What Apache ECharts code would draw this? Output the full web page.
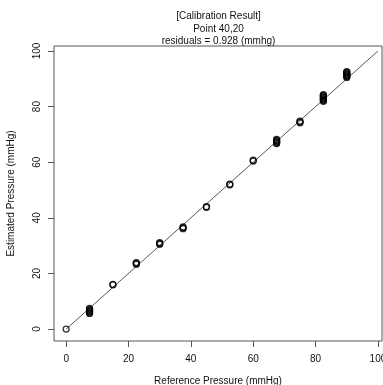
<!DOCTYPE html>
<html>
<head>
<meta charset="utf-8">
<script src="https://cdn.jsdelivr.net/npm/echarts@6/dist/echarts.min.js"></script>
<style>
  html, body { margin: 0; padding: 0; background: #fff; overflow: hidden; }
  #chart { width: 383px; height: 385px; }
</style>
</head>
<body>
<div id="chart"></div>
<script>
// reference pressure steps (mmHg)
const refPressure = [0, 7.5, 15, 22.5, 30, 37.5, 45, 52.5, 60, 67.5, 75, 82.5, 90];
// estimated pressure readings at each step (mmHg)
const estPressure = [
    [0],
    [5.6, 5.9, 6.2, 6.5, 6.8, 7.1, 7.4],
    [15.9, 16.1],
    [23.3, 23.6, 23.9],
    [30.5, 30.8, 31.1],
    [36.1, 36.4, 36.7],
    [43.8, 44.0],
    [51.9, 52.1],
    [60.4, 60.7],
    [66.7, 67.0, 67.3, 67.6, 67.9, 68.2],
    [74.2, 74.5, 74.8],
    [81.9, 82.2, 82.5, 82.8, 83.1, 83.4, 83.7, 84.0, 84.3],
    [90.5, 90.8, 91.1, 91.4, 91.7, 92.0, 92.3, 92.6]
];
// identity reference line
const lineX = [0, 100];
const lineY = [0, 100];
const xTicks = [0, 20, 40, 60, 80, 100];
const yTicks = [0, 20, 40, 60, 80, 100];
const titleLines = ['[Calibration Result]', 'Point 40,20', 'residuals = 0.928 (mmhg)'];

const points = [];
refPressure.forEach((x, i) => {
    estPressure[i].forEach(y => points.push([x, y]));
});

const font = 'Liberation Sans, Arial, sans-serif';
const chart = echarts.init(document.getElementById('chart'), null, {renderer: 'canvas'});

chart.setOption({
    animation: false,
    title: {
        text: titleLines.join('\n'),
        left: 218.5,
        top: 10,
        textAlign: 'center',
        padding: 0,
        textStyle: {fontFamily: font, fontSize: 10, fontWeight: 'normal', color: '#111', lineHeight: 12.5}
    },
    grid: {
        left: 54, right: 1, top: 46, bottom: 44,
        outerBoundsMode: 'none',
        containLabel: false,
        show: true, borderColor: '#555', borderWidth: 1, backgroundColor: 'transparent'
    },
    xAxis: {
        type: 'value',
        min: -3.9, max: 101.3,
        name: 'Reference Pressure (mmHg)',
        nameLocation: 'middle',
        nameGap: 35,
        nameTextStyle: {fontFamily: font, fontSize: 10, color: '#111'},
        splitLine: {show: false},
        axisLine: {show: false, onZero: false},
        axisTick: {show: true, length: 6, customValues: xTicks, lineStyle: {color: '#555'}},
        axisLabel: {customValues: xTicks, margin: 13, fontFamily: font, fontSize: 10, color: '#111', showMaxLabel: true}
    },
    yAxis: {
        type: 'value',
        min: -4.3, max: 101.8,
        name: 'Estimated Pressure (mmHg)',
        nameLocation: 'middle',
        nameRotate: 90,
        nameGap: 38,
        nameTextStyle: {fontFamily: font, fontSize: 10, color: '#111'},
        splitLine: {show: false},
        axisLine: {show: false, onZero: false},
        axisTick: {show: true, length: 6, customValues: yTicks, lineStyle: {color: '#555'}},
        axisLabel: {customValues: yTicks, rotate: 90, margin: 12, fontFamily: font, fontSize: 10, color: '#111'}
    },
    series: [
        {
            type: 'line',
            data: lineX.map((x, i) => [x, lineY[i]]),
            symbol: 'none',
            lineStyle: {color: '#444', width: 0.9},
            z: 1
        },
        {
            type: 'scatter',
            data: points,
            symbol: 'circle',
            symbolSize: 6,
            itemStyle: {color: 'rgba(255,255,255,0)', borderColor: '#000', borderWidth: 1.3},
            z: 2
        }
    ]
});
</script>
</body>
</html>
